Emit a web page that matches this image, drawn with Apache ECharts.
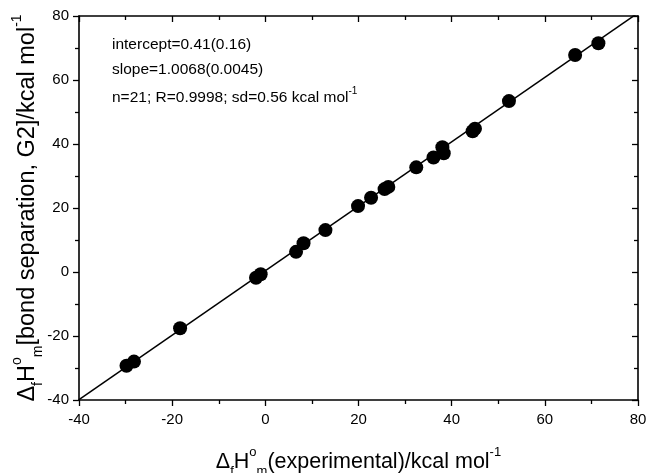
<!DOCTYPE html>
<html><head><meta charset="utf-8">
<script src="https://cdn.jsdelivr.net/npm/echarts@6/dist/echarts.min.js"></script>
<style>html,body{margin:0;padding:0;background:#fff}#c{width:649px;height:473px}</style>
</head><body><div id="c"></div>
<script>
// experimental vs calculated (bond separation, G2) enthalpies, kcal/mol
const expX  = [-29.8, -28.2, -18.3, -2.0, -1.0, 6.6, 8.2, 12.9, 19.9, 22.7, 25.6, 26.4, 32.4, 36.1, 38.0, 38.3, 44.5, 45.0, 52.3, 66.5, 71.5];
const calcY = [-29.3, -28.0, -17.6, -1.8, -0.7, 6.3, 9.0, 13.1, 20.6, 23.2, 25.9, 26.6, 32.7, 35.8, 39.0, 37.1, 44.0, 44.8, 53.4, 67.8, 71.5];
const intercept = 0.41, slope = 1.0068;
const fitX = [-40, 80];
const axisMin = -40, axisMax = 80, axisStep = 20;
const noteLines = ['intercept=0.41(0.16)', 'slope=1.0068(0.0045)', 'n=21; R=0.9998; sd=0.56 kcal mol'];

const pts = expX.map((x, i) => [x, calcY[i]]);
const fitPts = fitX.map(x => [x, intercept + slope * x]);
const FONT = '"Liberation Sans", Arial, sans-serif';
function richName(size) {
  const small = Math.round(size * 0.6);
  return {
    d: {fontSize: size, fontFamily: FONT, color: '#000', lineHeight: size * 1.5, verticalAlign: 'middle'},
    s: {fontSize: small, fontFamily: FONT, color: '#000', verticalAlign: 'bottom', lineHeight: size * 1.5},
    p: {fontSize: small, fontFamily: FONT, color: '#000', verticalAlign: 'top', lineHeight: size * 1.5}
  };
}
const lineStyle = {color: '#000', width: 1.6};
function baseAxis(extra) {
  return Object.assign({
    type: 'value', min: axisMin, max: axisMax, interval: axisStep,
    axisLine: {show: true, onZero: false, lineStyle: lineStyle},
    axisTick: {show: true, length: 6, lineStyle: {color: '#000', width: 1.3}},
    minorTick: {show: true, splitNumber: 2, length: 4, lineStyle: {color: '#000', width: 1.3}},
    splitLine: {show: false},
    axisLabel: {color: '#000', fontSize: 15, fontFamily: FONT, margin: 10}
  }, extra);
}
const chart = echarts.init(document.getElementById('c'), null, {renderer: 'canvas'});
chart.setOption({
  animation: false,
  backgroundColor: '#fff',
  grid: {left: 79, right: 11, top: 16, bottom: 73, containLabel: false, outerBoundsMode: 'none'},
  xAxis: [
    baseAxis({position: 'bottom',
      axisLabel: {color: '#000', fontSize: 15, fontFamily: FONT, margin: 12},
      name: '{d|Δ}{s|f}{d|H}{p|o}{s|m}{d|(experimental)/kcal mol}{p|-1}',
      nameLocation: 'middle', nameGap: 46,
      nameTextStyle: {rich: richName(21.5)}}),
    baseAxis({position: 'top', axisLabel: {show: false},
      axisTick: {show: true, inside: true, length: 6, lineStyle: {color: '#000', width: 1.3}}})
  ],
  yAxis: [
    baseAxis({position: 'left',
      name: '{d|Δ}{s|f}{d|H}{p|o}{s|m}{d|[bond separation, G2]/kcal mol}{p|-1}',
      nameLocation: 'middle', nameGap: 34, nameRotate: 90, nameMoveOverlap: false,
      nameTextStyle: {rich: richName(23.5)}}),
    baseAxis({position: 'right', axisLabel: {show: false},
      axisTick: {show: true, inside: true, length: 6, lineStyle: {color: '#000', width: 1.3}}})
  ],
  series: [
    {type: 'line', data: fitPts, xAxisIndex: 0, yAxisIndex: 0, symbol: 'none',
     lineStyle: {color: '#000', width: 1.5}, clip: true, silent: true},
    {type: 'scatter', data: pts, xAxisIndex: 0, yAxisIndex: 0, symbol: 'circle', symbolSize: 14,
     itemStyle: {color: '#000', opacity: 1}}
  ],
  graphic: noteLines.map((t, i) => ({
    type: 'text', left: 112, top: 37 + i * 24.5,
    style: {
      text: i === 2 ? '{a|' + t + '}{b|-1}' : t,
      fill: '#000', font: '15.5px ' + FONT,
      rich: {a: {fontSize: 15.5, fontFamily: FONT, lineHeight: 20, verticalAlign: 'bottom'},
             b: {fontSize: 10, fontFamily: FONT, verticalAlign: 'top', lineHeight: 20}}
    }
  }))
});
</script></body></html>
